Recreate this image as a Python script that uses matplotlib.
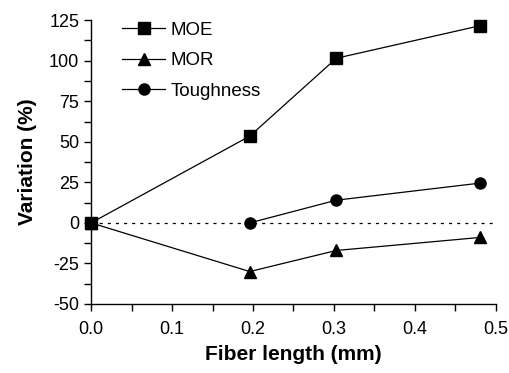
import matplotlib
matplotlib.use("Agg")
import matplotlib.pyplot as plt
from matplotlib.ticker import MultipleLocator

plt.rcParams['font.family'] = ['Liberation Sans', 'DejaVu Sans']
plt.rcParams['axes.unicode_minus'] = False

x_main = [0.0, 0.196, 0.303, 0.48]
moe = [0.0, 53.5, 101.5, 121.5]
mor = [0.0, -30.0, -17.0, -9.0]
x_tough = [0.196, 0.303, 0.48]
toughness = [0.0, 14.0, 24.5]

fig = plt.figure(figsize=(5.09, 3.73), dpi=100)
ax = fig.add_axes([0.179, 0.185, 0.795, 0.761])

ax.axhline(0, color='black', lw=0.9, ls=(0, (2.5, 4)), zorder=1)
ax.plot(x_main, moe, '-s', color='black', lw=0.9, ms=8, label='MOE', zorder=3)
ax.plot(x_main, mor, '-^', color='black', lw=0.9, ms=9, label='MOR', zorder=3)
ax.plot(x_tough, toughness, '-o', color='black', lw=0.9, ms=8, label='Toughness', zorder=3)

ax.set_xlim(0, 0.5)
ax.set_ylim(-50, 125)
ax.xaxis.set_major_locator(MultipleLocator(0.1))
ax.xaxis.set_minor_locator(MultipleLocator(0.05))
ax.yaxis.set_major_locator(MultipleLocator(25))
ax.yaxis.set_minor_locator(MultipleLocator(12.5))
ax.set_xticklabels([f'{v:.1f}' for v in ax.get_xticks()])
ax.spines['top'].set_visible(False)
ax.spines['right'].set_visible(False)
for s in ['left', 'bottom']:
    ax.spines[s].set_linewidth(1.0)
ax.tick_params(which='both', direction='out', width=1.0, labelsize=13)
ax.tick_params(which='major', length=5)
ax.tick_params(which='minor', length=5)
ax.tick_params(axis='x', pad=7)
for l in ax.lines:
    l.set_clip_on(False)

ax.set_xlabel('Fiber length (mm)', fontsize=15, fontweight='bold', labelpad=5)
ax.set_ylabel('Variation (%)', fontsize=15, fontweight='bold', labelpad=9)

leg = ax.legend(loc='upper left', bbox_to_anchor=(0.035, 1.055), frameon=False,
                fontsize=13.5, handlelength=2.3, handletextpad=0.3, labelspacing=0.72)

fig.savefig('out.png', dpi=100)
